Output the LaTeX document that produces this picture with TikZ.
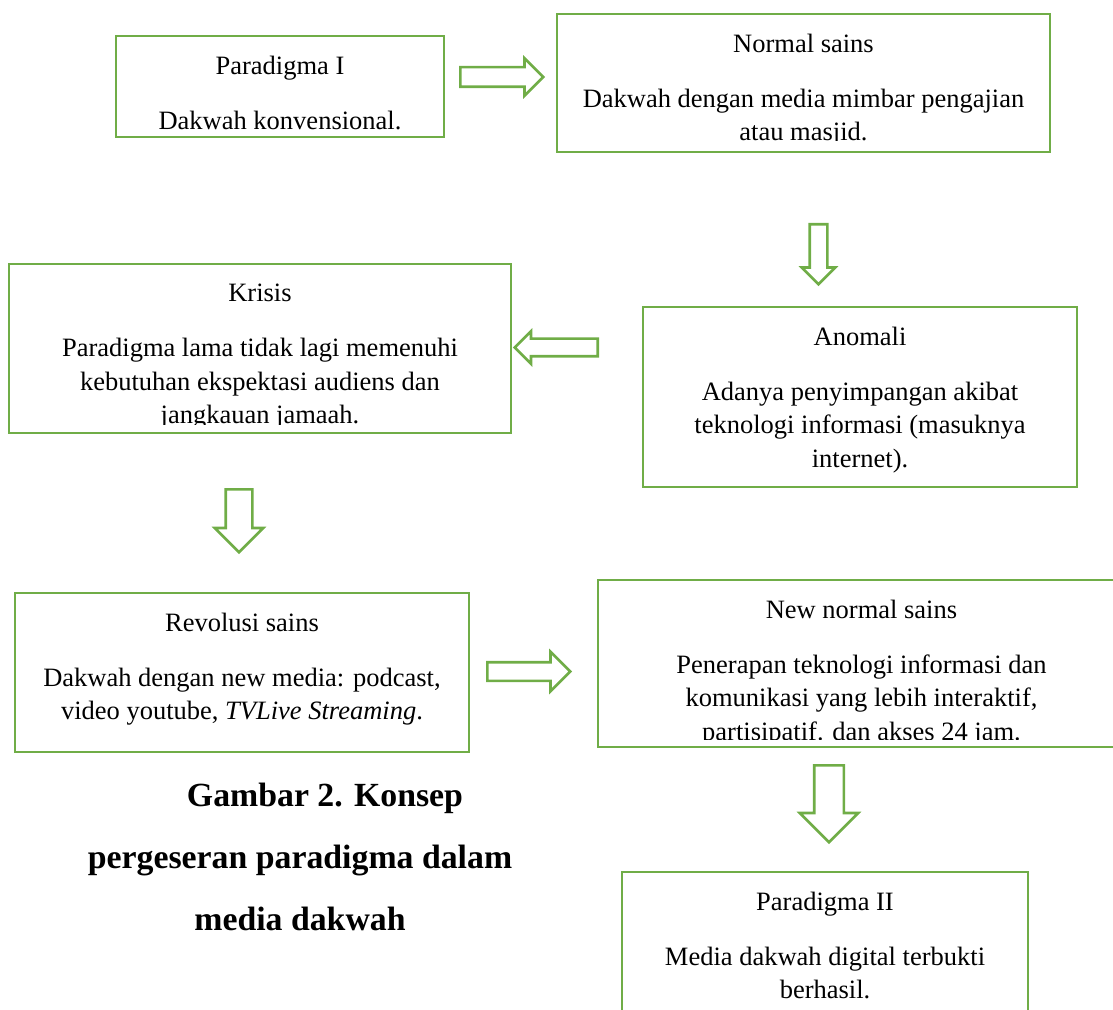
\documentclass[tikz,border=0pt]{standalone}
\usepackage{fontspec}
\setmainfont{Liberation Serif}
\usepackage{xcolor}
\usetikzlibrary{shapes.arrows,positioning}
\definecolor{boxgreen}{RGB}{112,173,71}

\begin{document}
\begin{tikzpicture}[
    x=0.5pt, y=-0.5pt,
    box/.style={draw=boxgreen, line width=1.3pt, inner sep=0pt},
    boxtext/.style={anchor=north, inner sep=0pt, align=center, font=\fontsize{13.25pt}{16.75pt}\selectfont},
    blockarrow/.style n args={3}{single arrow, draw=boxgreen, line width=1.3pt, anchor=tail, inner xsep=0pt, minimum height=#1, inner ysep=#2, single arrow head extend=#3},
    caption/.style={inner sep=0pt, align=center, font=\bfseries\fontsize{16.9pt}{31pt}\selectfont}
]
\useasboundingbox (0,0) rectangle (1113,1010);

% Paradigma I
\node[box, minimum width=164pt, minimum height=50.5pt] (para1) at (280,86.5) {};
\node[boxtext] (para1text) at ([yshift=-10.5pt]para1.north) {Paradigma I\\[10.75pt]Dakwah konvensional.};

% Normal sains
\node[box, minimum width=246.5pt, minimum height=69pt] (normal) at (803.5,83) {};
\begin{scope}
\clip ([yshift=6.5pt]normal.south west) rectangle (normal.north east);
\node[boxtext] (normaltext) at ([yshift=-10.5pt]normal.north) {Normal sains\\[10.75pt]Dakwah dengan media mimbar pengajian\\atau masjid.};
\end{scope}

% Anomali
\node[box, minimum width=217pt, minimum height=90pt] (anomali) at (860,397) {};
\node[boxtext] (anomalitext) at ([yshift=-10.5pt]anomali.north) {Anomali\\[10.75pt]Adanya penyimpangan akibat\\teknologi informasi (masuknya\\internet).};

% Krisis
\node[box, minimum width=251pt, minimum height=84.5pt] (krisis) at (260,348.5) {};
\begin{scope}
\clip ([yshift=5pt]krisis.south west) rectangle (krisis.north east);
\node[boxtext] (krisistext) at ([yshift=-10.5pt]krisis.north) {Krisis\\[10.75pt]Paradigma lama tidak lagi memenuhi\\kebutuhan ekspektasi audiens dan\\jangkauan jamaah.};
\end{scope}

% Revolusi sains
\node[box, minimum width=227pt, minimum height=79.5pt] (revolusi) at (242,672.5) {};
\node[boxtext] (revolusitext) at ([yshift=-10.5pt]revolusi.north) {Revolusi sains\\[10.75pt]Dakwah dengan new media: podcast,\\video youtube, \textit{TVLive Streaming}.};

% New normal sains
\node[box, minimum width=263.5pt, minimum height=83.5pt] (newnormal) at (861.5,663.5) {};
\begin{scope}
\clip ([yshift=4.5pt]newnormal.south west) rectangle (newnormal.north east);
\node[boxtext] (newnormaltext) at ([yshift=-10.5pt]newnormal.north) {New normal sains\\[10.75pt]Penerapan teknologi informasi dan\\komunikasi yang lebih interaktif,\\partisipatif. dan akses 24 jam.};
\end{scope}

% Paradigma II
\node[box, minimum width=203pt, minimum height=79pt] (para2) at (825,951) {};
\node[boxtext] (para2text) at ([yshift=-10.5pt]para2.north) {Paradigma II\\[10.75pt]Media dakwah digital terbukti\\berhasil.};

% Arrows
\node[blockarrow={41.5pt}{4.25pt}{4.5pt}] (arrowone) at (459,77) {};
\node[blockarrow={30pt}{3.75pt}{4pt}, rotate=-90] (arrowtwo) at (818.5,223) {};
\node[blockarrow={41.5pt}{3.75pt}{3.75pt}, rotate=180] (arrowthree) at (599,347.5) {};
\node[blockarrow={31.5pt}{6pt}{5.5pt}, rotate=-90] (arrowfour) at (239,488) {};
\node[blockarrow={41.5pt}{4pt}{5.25pt}] (arrowfive) at (486,671.5) {};
\node[blockarrow={38.5pt}{6.75pt}{7.25pt}, rotate=-90] (arrowsix) at (829,764) {};

% Caption
\node[caption] (caption) at (300,856.5) {\hspace*{25pt}Gambar 2. Konsep\\pergeseran paradigma dalam\\media dakwah};

\end{tikzpicture}
\end{document}
